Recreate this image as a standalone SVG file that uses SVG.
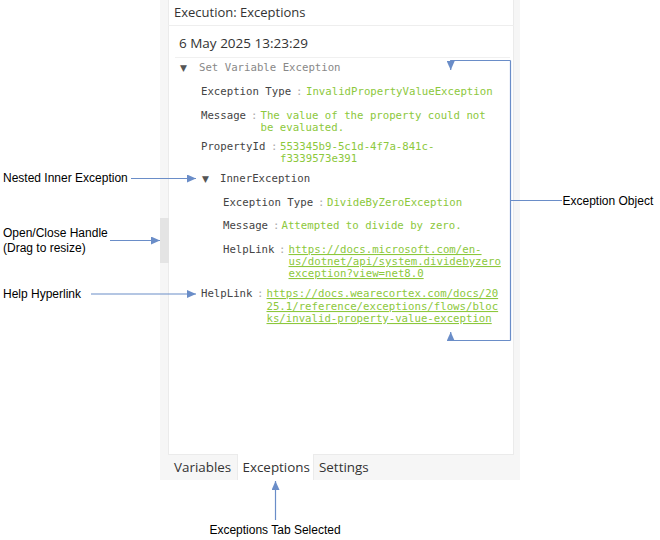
<svg xmlns="http://www.w3.org/2000/svg" width="660" height="540" viewBox="0 0 660 540">
<defs>
<marker id="ah" markerUnits="userSpaceOnUse" markerWidth="9" markerHeight="8" refX="9" refY="4" orient="auto">
<path d="M0,0 L9,4 L0,8 z" fill="#6a8dc8"/>
</marker>
<style>
.ui{font-family:"Open Sans","Noto Sans",sans-serif;fill:#333}
.mono{font-family:"DejaVu Sans Mono","Liberation Mono",monospace;font-size:10.7px}
.k{fill:#444}
.c{fill:#aaa}
.v{fill:#8cc83c}
.u{text-decoration:underline}
.t{font-family:"Liberation Sans",Arial,sans-serif;font-size:12px;fill:#000}
.cn{fill:none;stroke:#6a8dc8;stroke-width:1.2}
.tri{fill:#555;font-size:9px;font-family:"DejaVu Sans",sans-serif}
</style>
</defs>
<rect width="660" height="540" fill="#fff"/>
<g id="panel">
<rect x="160" y="0" width="360" height="480" fill="#f6f6f6"/>
<rect x="168.5" y="-1" width="345" height="455.5" fill="#fff" stroke="#ebebeb"/>
<line x1="168" y1="25.5" x2="514" y2="25.5" stroke="#eeeeee"/>
<line x1="175" y1="57.5" x2="510" y2="57.5" stroke="#f0f0f0"/>
<text class="ui" x="174" y="17" font-size="13">Execution: Exceptions</text>
<text class="ui" x="179" y="48" font-size="13.5" fill="#222">6 May 2025 13:23:29</text>
</g>
<g id="handle">
<rect x="160" y="218" width="9" height="45" fill="#e4e4e4"/>
</g>
<g id="exception" class="mono">
<text class="tri" x="180" y="71">▼</text>
<text x="199" y="71" fill="#888">Set Variable Exception</text>
<text class="k" x="201" y="95">Exception Type</text><text class="c" x="296" y="95">:</text><text class="v" x="306" y="95">InvalidPropertyValueException</text>
<text class="k" x="201" y="119">Message</text><text class="c" x="251" y="119">:</text><text class="v" x="260.5" y="119">The value of the property could not</text>
<text class="v" x="260.5" y="131">be evaluated.</text>
<text class="k" x="201" y="150">PropertyId</text><text class="c" x="271" y="150">:</text><text class="v" x="280" y="150">553345b9-5c1d-4f7a-841c-</text>
<text class="v" x="280" y="162">f3339573e391</text>
</g>
<g id="inner-exception" class="mono">
<text class="tri" x="202" y="182">▼</text>
<text class="k" x="220" y="182">InnerException</text>
<text class="k" x="223" y="206">Exception Type</text><text class="c" x="318" y="206">:</text><text class="v" x="327" y="206">DivideByZeroException</text>
<text class="k" x="223" y="229">Message</text><text class="c" x="273" y="229">:</text><text class="v" x="281.5" y="229">Attempted to divide by zero.</text>
<text class="k" x="223" y="253">HelpLink</text><text class="c" x="279" y="253">:</text>
<text class="v u" x="288.5" y="253">https://docs.microsoft.com/en-</text>
<text class="v u" x="288.5" y="265">us/dotnet/api/system.dividebyzero</text>
<text class="v u" x="288.5" y="277">exception?view=net8.0</text>
</g>
<g id="helplink" class="mono">
<text class="k" x="201" y="297">HelpLink</text><text class="c" x="257" y="297">:</text>
<text class="v u" x="266.5" y="297">https://docs.wearecortex.com/docs/20</text>
<text class="v u" x="266.5" y="310">25.1/reference/exceptions/flows/bloc</text>
<text class="v u" x="266.5" y="322">ks/invalid-property-value-exception</text>
</g>
<g id="tabs">
<rect x="237.5" y="454" width="76" height="26" fill="#fff"/>
<line x1="237.5" y1="454" x2="237.5" y2="480" stroke="#ebebeb"/>
<line x1="313.5" y1="454" x2="313.5" y2="480" stroke="#ebebeb"/>
<text class="ui" x="174" y="472" font-size="13.4">Variables</text>
<text class="ui" x="242.5" y="472" font-size="13.4">Exceptions</text>
<text class="ui" x="319" y="472" font-size="13.4">Settings</text>
</g>
<g id="connectors">
<path class="cn" d="M131,178.5 H196" marker-end="url(#ah)"/>
<path class="cn" d="M110,240.5 H160" marker-end="url(#ah)"/>
<path class="cn" d="M91,294 H196" marker-end="url(#ah)"/>
<path class="cn" d="M562,200.5 H510.5"/>
<path class="cn" d="M510.5,60.5 V340.5"/>
<path class="cn" d="M510.5,60.5 H450.7 V70" marker-end="url(#ah)"/>
<path class="cn" d="M510.5,340.5 H450.7 V332" marker-end="url(#ah)"/>
<path class="cn" d="M275.5,520 V481" marker-end="url(#ah)"/>
</g>
<g id="labels">
<text class="t" x="3" y="182">Nested Inner Exception</text>
<text class="t" x="3" y="237">Open/Close Handle</text>
<text class="t" x="3" y="252">(Drag to resize)</text>
<text class="t" x="3" y="298">Help Hyperlink</text>
<text class="t" x="562.5" y="204.5">Exception Object</text>
<text class="t" x="275" y="534" text-anchor="middle">Exceptions Tab Selected</text>
</g>
</svg>
